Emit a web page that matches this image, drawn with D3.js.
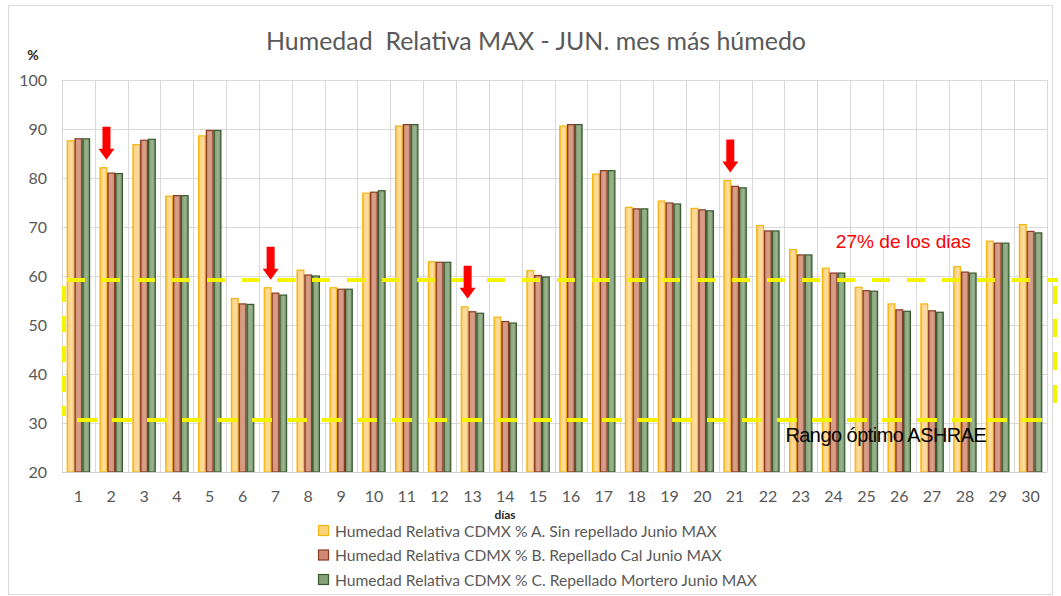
<!DOCTYPE html>
<html>
<head>
<meta charset="utf-8">
<script src="https://cdn.jsdelivr.net/npm/d3@7"></script>
<style>
  html, body { margin: 0; padding: 0; background: #ffffff; }
  svg { display: block; }
</style>
</head>
<body>
<svg id="chart" width="1061" height="596"></svg>
<script>
// Días del mes de junio
const dias = d3.range(1, 31);

// Humedad relativa máxima diaria (%)
const sinRepellado = [87.6, 82.1, 86.8, 76.3, 88.6, 55.4, 57.6, 61.2, 57.6, 76.9,
                      90.6, 62.9, 53.7, 51.6, 61.1, 90.6, 80.8, 74.0, 75.3, 73.8,
                      79.5, 70.3, 65.4, 61.6, 57.7, 54.3, 54.3, 61.9, 67.1, 70.5];
const repelladoCal = [88.0, 81.0, 87.7, 76.4, 89.7, 54.3, 56.5, 60.2, 57.3, 77.1,
                      90.9, 62.8, 52.7, 50.7, 60.1, 90.9, 81.5, 73.7, 74.9, 73.5,
                      78.3, 69.2, 64.3, 60.6, 57.0, 53.1, 52.9, 60.8, 66.7, 69.1];
const repelladoMortero = [88.0, 80.9, 87.9, 76.4, 89.7, 54.2, 56.1, 60.0, 57.3, 77.4,
                          90.9, 62.8, 52.4, 50.4, 59.8, 90.9, 81.5, 73.7, 74.7, 73.3,
                          78.0, 69.2, 64.3, 60.6, 56.9, 52.8, 52.6, 60.6, 66.7, 68.8];

const nombresSeries = [
  "Humedad Relativa CDMX % A. Sin repellado Junio MAX",
  "Humedad Relativa CDMX % B. Repellado Cal Junio MAX",
  "Humedad Relativa CDMX % C. Repellado Mortero Junio MAX"
];
const yTicks = [20, 30, 40, 50, 60, 70, 80, 90, 100];

// Rango óptimo ASHRAE marcado sobre el gráfico
const rangoOptimo = [30.6, 59.2];
// Días señalados con flecha
const diasSenalados = [2, 7, 13, 21];

const seriesValues = [sinRepellado, repelladoCal, repelladoMortero];
const tabla = dias.map((d, i) => ({ dia: d, valores: seriesValues.map(s => s[i]) }));

const svg = d3.select("#chart");
const margin = { left: 62, right: 1047, top: 80, bottom: 472 };

const x = d3.scaleBand().domain(dias).range([margin.left, margin.right]).paddingInner(0).paddingOuter(0);
const xs = d3.scaleBand().domain([0, 1, 2]).range([0, x.bandwidth()]).paddingInner(0).paddingOuter(0.61);
const y = d3.scaleLinear().domain([20, 100]).range([margin.bottom, margin.top]);

// Marco exterior
svg.append("rect")
  .attr("x", 8.5).attr("y", 5.5).attr("width", 1044).attr("height", 589)
  .attr("fill", "#ffffff").attr("stroke", "#d9d9d9").attr("stroke-width", 1);

// Degradados de relleno de las barras
const defs = svg.append("defs");
const grads = [
  { id: "gA", stops: [["0%", "#f6bd1c"], ["22%", "#fcd48a"], ["60%", "#fedca0"], ["100%", "#fbd08a"]] },
  { id: "gB", stops: [["0%", "#a9553b"], ["20%", "#d6977f"], ["60%", "#d9a08c"], ["100%", "#c98670"]] },
  { id: "gC", stops: [["0%", "#4a6a3e"], ["20%", "#8aa57e"], ["60%", "#9ab590"], ["100%", "#6f8c63"]] }
];
grads.forEach(g => {
  const lg = defs.append("linearGradient").attr("id", g.id).attr("x1", "0").attr("x2", "1").attr("y1", "0").attr("y2", "0");
  g.stops.forEach(s => lg.append("stop").attr("offset", s[0]).attr("stop-color", s[1]));
});
const fills = ["url(#gA)", "url(#gB)", "url(#gC)"];
const strokes = ["#f3b60f", "#8a3a22", "#3a5a2f"];
const legendFills = ["#fcd37c", "#d08a76", "#86a079"];

// Cuadrícula
const grid = svg.append("g");
grid.selectAll("line.h").data(yTicks).join("line")
  .attr("x1", margin.left).attr("x2", margin.right)
  .attr("y1", d => Math.round(y(d)) + 0.5).attr("y2", d => Math.round(y(d)) + 0.5)
  .attr("stroke", "#d9d9d9").attr("stroke-width", 1);
const bordes = dias.map(d => x(d)).concat([margin.right]);
grid.selectAll("line.v").data(bordes).join("line")
  .attr("x1", d => Math.round(d) + 0.5).attr("x2", d => Math.round(d) + 0.5)
  .attr("y1", y(100)).attr("y2", y(20))
  .attr("stroke", "#d9d9d9").attr("stroke-width", 1);

// Barras
const grupos = svg.append("g").selectAll("g").data(tabla).join("g")
  .attr("transform", d => `translate(${x(d.dia)},0)`);
grupos.selectAll("rect").data(d => d.valores.map((v, k) => ({ v, k }))).join("rect")
  .attr("x", d => xs(d.k) + 0.5)
  .attr("width", xs.bandwidth() - 1)
  .attr("y", d => y(d.v))
  .attr("height", d => y(20) - y(d.v))
  .attr("fill", d => fills[d.k])
  .attr("stroke", d => strokes[d.k])
  .attr("stroke-width", 1.2);

// Eje inferior
svg.append("line")
  .attr("x1", margin.left).attr("x2", margin.right)
  .attr("y1", y(20) + 0.5).attr("y2", y(20) + 0.5)
  .attr("stroke", "#d0d0d0");

// Etiquetas del eje Y
svg.append("g").selectAll("text").data(yTicks).join("text")
  .attr("x", margin.left - 15).attr("y", d => y(d))
  .attr("dy", "0.36em").attr("text-anchor", "end")
  .attr("font-family", "Lato, 'Open Sans', sans-serif").attr("font-size", 16)
  .attr("fill", "#595959").text(d => d);

// Etiquetas del eje X
svg.append("g").selectAll("text").data(dias).join("text")
  .attr("x", d => x(d) + x.bandwidth() / 2).attr("y", y(20) + 24)
  .attr("dy", "0.36em").attr("text-anchor", "middle")
  .attr("font-family", "Lato, 'Open Sans', sans-serif").attr("font-size", 16)
  .attr("fill", "#595959").text(d => d);

// Títulos de ejes
svg.append("text").attr("x", 33).attr("y", 60).attr("text-anchor", "middle")
  .attr("font-family", "Lato, sans-serif").attr("font-size", 14).attr("font-weight", "bold")
  .attr("fill", "#262626").text("%");
svg.append("text").attr("x", 505).attr("y", 519).attr("text-anchor", "middle")
  .attr("font-family", "Lato, sans-serif").attr("font-size", 12).attr("font-weight", "bold")
  .attr("fill", "#262626").text("días");

// Ajusta el tamaño de letra para ocupar un ancho dado
function ajustarAncho(sel, ancho) {
  const base = +sel.attr("font-size");
  const w = sel.node().getComputedTextLength();
  const fs = base * ancho / w;
  sel.attr("font-size", fs.toFixed(2));
  return fs;
}

// Título
const titulo = svg.append("text").attr("x", 536).attr("y", 50).attr("text-anchor", "middle")
  .attr("font-family", "Lato, 'Open Sans', sans-serif").attr("font-size", 22)
  .attr("fill", "#595959").attr("xml:space", "preserve")
  .text("Humedad  Relativa MAX - JUN. mes más húmedo");
ajustarAncho(titulo, 540);

// Rango óptimo: líneas discontinuas amarillas
const amarillo = "#f4f400";
const ann = svg.append("g").attr("stroke", amarillo).attr("stroke-width", 4).attr("fill", "none");
ann.append("line")
  .attr("x1", margin.left + 5).attr("x2", margin.right + 11)
  .attr("y1", y(rangoOptimo[1])).attr("y2", y(rangoOptimo[1]))
  .attr("stroke-dasharray", "18 17");
ann.append("line")
  .attr("x1", margin.left + 15).attr("x2", margin.right - 4)
  .attr("y1", y(rangoOptimo[0])).attr("y2", y(rangoOptimo[0]))
  .attr("stroke-dasharray", "20 15");
ann.append("line")
  .attr("x1", margin.left + 2).attr("x2", margin.left + 2)
  .attr("y1", y(rangoOptimo[1]) + 6).attr("y2", y(rangoOptimo[0]) - 4)
  .attr("stroke-dasharray", "16 14");
ann.append("line")
  .attr("x1", margin.right + 8).attr("x2", margin.right + 8)
  .attr("y1", y(rangoOptimo[1]) + 6).attr("y2", y(rangoOptimo[0]) - 4)
  .attr("stroke-dasharray", "18 15");

// Flechas rojas sobre los días señalados
const flechas = svg.append("g");
diasSenalados.forEach(d => {
  const v = sinRepellado[d - 1];
  const cx = x(d) + xs(0) + xs.bandwidth() / 2 + 3;
  const tip = y(v) - 8;
  const top = tip - 33;
  const head = 11, hw = 8, sw = 4;
  flechas.append("path")
    .attr("d", `M${cx - sw},${top} L${cx + sw},${top} L${cx + sw},${tip - head} L${cx + hw},${tip - head} L${cx},${tip} L${cx - hw},${tip - head} L${cx - sw},${tip - head} Z`)
    .attr("fill", "#ff0000");
});

// Textos de anotación
const t27 = svg.append("text")
  .attr("x", x(26) + x.bandwidth() / 2 + 4).attr("y", y(65.8)).attr("text-anchor", "middle")
  .attr("font-family", "'Liberation Sans', Arial, sans-serif").attr("font-size", 19)
  .attr("fill", "#ff0000").text("27% de los dias");
ajustarAncho(t27, 135);
const tRango = svg.append("text")
  .attr("x", x(25) + x.bandwidth() + 3).attr("y", y(26.2)).attr("text-anchor", "middle")
  .attr("font-family", "'Liberation Sans', Arial, sans-serif").attr("font-size", 18)
  .attr("fill", "#000000").attr("letter-spacing", "-0.5").text("Rango óptimo ASHRAE");
ajustarAncho(tRango, 200);

// Leyenda
const leyenda = svg.append("g");
let fsLeyenda = 16;
nombresSeries.forEach((n, k) => {
  const cy = 531 + k * 24.5;
  leyenda.append("rect")
    .attr("x", 318.5).attr("y", cy - 5.5).attr("width", 10).attr("height", 10)
    .attr("fill", legendFills[k]).attr("stroke", strokes[k]).attr("stroke-width", 1.2);
  const t = leyenda.append("text")
    .attr("x", 335).attr("y", cy).attr("dy", "0.36em")
    .attr("font-family", "Lato, 'Open Sans', sans-serif").attr("font-size", fsLeyenda)
    .attr("fill", "#595959").text(n);
  if (k === 0) fsLeyenda = ajustarAncho(t, 382);
  else t.attr("font-size", fsLeyenda.toFixed(2));
});
</script>
</body>
</html>
